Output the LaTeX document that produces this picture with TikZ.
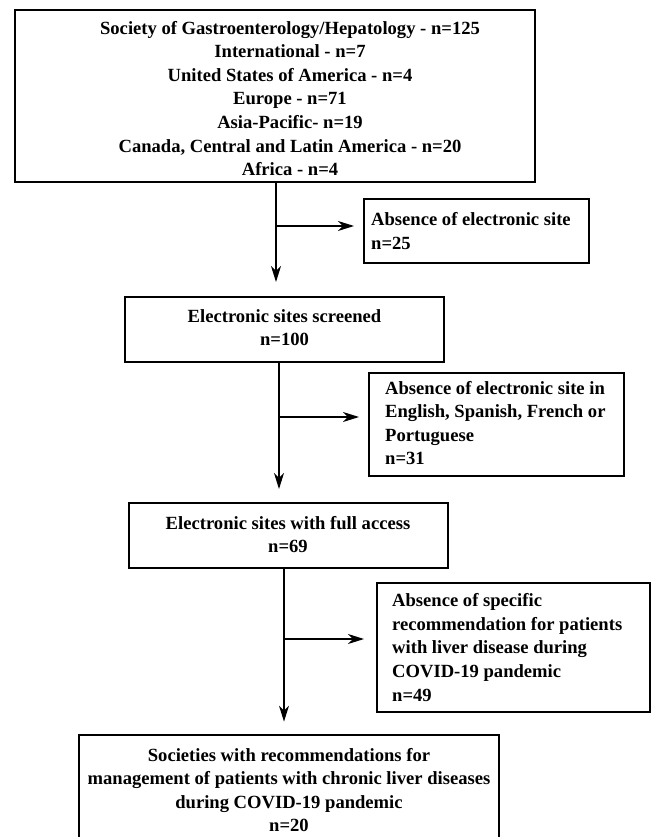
\documentclass[tikz,border=0pt]{standalone}
\usepackage{fontspec}
\setmainfont{Liberation Serif}
\usetikzlibrary{arrows.meta}
\begin{document}
\begin{tikzpicture}[x=1pt,y=-1pt,
  frame/.style={draw, line width=2pt, inner sep=0pt, rectangle},
  thickframe/.style={draw, line width=2.8pt, inner sep=0pt, rectangle},
  txt/.style={inner sep=0pt, font=\fontsize{18.6}{23.6}\selectfont\bfseries},
  ln/.style={line width=1.2pt},
  arr/.style={line width=1.2pt, -{Stealth[length=16pt,width=10pt,inset=5pt]}}]
\fill[white] (0,0) rectangle (652,837);
\useasboundingbox (0,0) rectangle (652,837);
\clip (0,0) rectangle (652,837);
% boxes
\node[thickframe, minimum width=520pt, minimum height=172pt] (b1) at (275,96) {};
\node[frame, minimum width=225pt, minimum height=64pt] (a1) at (476.5,231) {};
\node[frame, minimum width=319pt, minimum height=65pt] (b2) at (284.5,329.5) {};
\node[frame, minimum width=255pt, minimum height=103pt] (a2) at (496.5,424.5) {};
\node[frame, minimum width=319pt, minimum height=65pt] (b3) at (288.5,535.5) {};
\node[frame, minimum width=273pt, minimum height=129pt] (a3) at (513.5,647.5) {};
\node[thickframe, minimum width=420pt, minimum height=111pt] (b4) at (289,790.5) {};
% texts
\node[txt, align=center] (t1) at (290,98.5) {Society of Gastroenterology/Hepatology - n=125\\International - n=7\\United States of America - n=4\\Europe - n=71\\Asia-Pacific- n=19\\Canada, Central and Latin America - n=20\\Africa - n=4};
\node[txt, align=left, anchor=west] (t2) at (371,231) {Absence of electronic site\\n=25};
\node[txt, align=center] (t3) at (284.5,327.5) {Electronic sites screened\\n=100};
\node[txt, align=left, anchor=west] (t4) at (385,423) {Absence of electronic site in\\English, Spanish, French or\\Portuguese\\n=31};
\node[txt, align=center] (t5) at (288,534.5) {Electronic sites with full access\\n=69};
\node[txt, align=left, anchor=west] (t6) at (392,647.5) {Absence of specific\\recommendation for patients\\with liver disease during\\COVID-19 pandemic\\n=49};
\node[txt, align=center] (t7) at (289,790) {Societies with recommendations for\\management of patients with chronic liver diseases\\during COVID-19 pandemic\\n=20};
% connectors
\coordinate (j1) at (276,226);
\coordinate (j2) at (279,417);
\coordinate (j3) at (284,639);
\draw[arr, shorten >=14pt] (b1.south -| j1) -- (j1 |- b2.north);
\draw[arr, shorten >=9pt] (j1) -- (j1 -| a1.west);
\draw[arr, shorten >=13pt] (b2.south -| j2) -- (j2 |- b3.north);
\draw[arr, shorten >=9pt] (j2) -- (j2 -| a2.west);
\draw[arr, shorten >=12pt] (b3.south -| j3) -- (j3 |- b4.north);
\draw[arr, shorten >=12pt] (j3) -- (j3 -| a3.west);
\end{tikzpicture}
\end{document}
